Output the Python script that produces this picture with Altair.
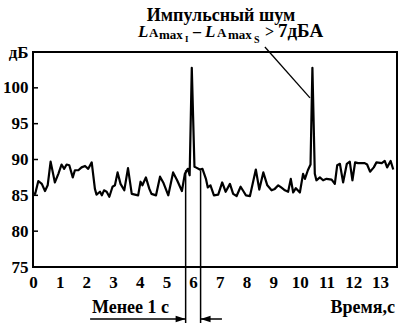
import altair as alt
import pandas as pd

# ---- data ----
times = [0.0, 0.08, 0.2, 0.33, 0.45, 0.55, 0.66, 0.82, 0.95, 1.07, 1.17, 1.26, 1.36, 1.49,
         1.57, 1.70, 1.82, 1.95, 2.07, 2.20, 2.32, 2.38, 2.51, 2.58, 2.66, 2.76, 2.86, 2.98,
         3.07, 3.17, 3.28, 3.42, 3.56, 3.70, 3.82, 3.94, 4.03, 4.10, 4.23, 4.36, 4.44, 4.61,
         4.76, 4.88, 5.07, 5.25, 5.40, 5.58, 5.69, 5.80, 5.87, 5.95, 6.05, 6.10, 6.25, 6.35,
         6.48, 6.55, 6.65, 6.78, 6.94, 7.09, 7.22, 7.38, 7.50, 7.63, 7.78, 7.88, 7.98, 8.13,
         8.35, 8.48, 8.63, 8.78, 8.94, 9.06, 9.19, 9.30, 9.44, 9.56, 9.66, 9.75, 9.85, 10.0,
         10.12, 10.19, 10.30, 10.40, 10.47, 10.56, 10.62, 10.75, 10.87, 11.0, 11.19, 11.31,
         11.40, 11.50, 11.62, 11.76, 11.87, 11.97, 12.07, 12.18, 12.43, 12.52, 12.63, 12.77,
         12.87, 13.07, 13.18, 13.27, 13.40, 13.50]
levels = [85.3, 85.2, 87.0, 86.6, 85.6, 86.4, 89.7, 86.8, 88.0, 89.3, 88.7, 89.3, 89.2, 87.5,
          88.5, 88.5, 88.9, 89.1, 88.7, 89.6, 85.9, 85.1, 85.5, 85.0, 85.7, 85.5, 84.8, 86.2,
          86.4, 88.2, 86.6, 85.7, 88.8, 85.2, 85.1, 85.0, 86.9, 86.4, 87.5, 85.9, 85.2, 85.0,
          87.6, 86.8, 85.0, 88.2, 87.1, 85.6, 88.0, 88.7, 87.8, 102.8, 89.0, 88.9, 88.6, 88.7,
          87.3, 86.1, 86.4, 85.0, 85.1, 86.8, 85.5, 86.6, 85.2, 84.9, 86.2, 85.6, 85.0, 84.9,
          88.6, 85.8, 88.2, 86.4, 85.7, 85.9, 86.4, 86.1, 85.7, 85.5, 87.3, 85.4, 86.0, 85.4,
          88.0, 87.3, 88.5, 89.3, 102.8, 88.0, 87.1, 87.5, 87.1, 87.3, 87.2, 86.6,
          89.2, 89.4, 86.8, 89.4, 89.7, 87.1, 89.6, 89.5, 89.5, 89.3, 88.3, 88.9,
          89.6, 89.5, 89.8, 88.9, 89.8, 88.6]
assert len(times) == len(levels)

x_ticks = list(range(14))
y_ticks = [75, 80, 85, 90, 95, 100, 105]
inner_ticks = [80, 85, 90, 95, 100]
interval_edges = [5.72, 6.28]      # "less than 1 s" interval
interval_top = 88.5
arrow_starts = [2.14, 7.08]
pointer_t = [8.69, 10.38]
pointer_v = [105.7, 98.6]

FONT = "Liberation Serif"
WEIGHT = "bold"
xs = alt.Scale(domain=[0, 13.64], nice=False, zero=False)
ys = alt.Scale(domain=[75, 105], nice=False, zero=False)

# the same axis objects are used in every layer, so the shared axes merge cleanly
xaxis = alt.Axis(values=x_ticks, ticks=False, domain=False, grid=False, labelFont=FONT,
                 labelFontSize=17, labelFontWeight=WEIGHT, labelColor="black",
                 labelPadding=7, labelFlush=False, labelOverlap=False, title=None)
yaxis = alt.Axis(values=y_ticks, ticks=False, domain=False, grid=False, labelFont=FONT,
                 labelFontSize=17, labelFontWeight=WEIGHT, labelColor="black",
                 labelPadding=5, labelFlush=False, labelOverlap=False, title=None,
                 labelExpr="datum.value == 105 ? 'дБ' : datum.label")


def X(field):
    return alt.X(field, scale=xs, axis=xaxis)


def Y(field):
    return alt.Y(field, scale=ys, axis=yaxis)


df = pd.DataFrame({"t": times, "v": levels})

line = alt.Chart(df).mark_line(color="black", strokeWidth=2.2, strokeJoin="round").encode(
    x=X("t:Q"), y=Y("v:Q"))

tick_layer = alt.Chart(pd.DataFrame({"v": inner_ticks})).mark_rule(
    color="black", strokeWidth=1.5).encode(
    y=Y("v:Q"), x=alt.value(0), x2=alt.value(5))

edge_rules = alt.Chart(pd.DataFrame({"t": interval_edges, "v": [interval_top] * 2})).mark_rule(
    color="black", strokeWidth=1.5).encode(
    x=X("t:Q"), y=Y("v:Q"), y2=alt.value(271))

arrow_lines = alt.Chart(pd.DataFrame({"t": arrow_starts, "t2": interval_edges})).mark_rule(
    color="black", strokeWidth=1.5).encode(
    x=X("t:Q"), x2="t2:Q", y=alt.value(267))

head_r = alt.Chart(pd.DataFrame({"t": [interval_edges[0]]})).mark_point(
    shape="M0,0L-1,-0.32L-1,0.32Z", filled=True, color="black", opacity=1, size=400).encode(
    x=X("t:Q"), y=alt.value(267))
head_l = alt.Chart(pd.DataFrame({"t": [interval_edges[1]]})).mark_point(
    shape="M0,0L1,-0.32L1,0.32Z", filled=True, color="black", opacity=1, size=400).encode(
    x=X("t:Q"), y=alt.value(267))

pointer = alt.Chart(pd.DataFrame({"t": [pointer_t[0]], "t2": [pointer_t[1]],
                                  "v": [pointer_v[0]], "v2": [pointer_v[1]]})).mark_rule(
    color="black", strokeWidth=1.3).encode(
    x=X("t:Q"), x2="t2:Q", y=Y("v:Q"), y2="v2:Q")


def label(txt, px, py, size, style="normal", align="left"):
    return alt.Chart(pd.DataFrame({"s": [txt]})).mark_text(
        font=FONT, fontSize=size, fontStyle=style, fontWeight=WEIGHT, align=align,
        baseline="alphabetic", color="black").encode(
        x=alt.value(px), y=alt.value(py), text="s:N")


texts = [
    label("Импульсный шум", 188, -31, 18, align="center"),
    label("L", 105, -15, 17, "italic"),
    label("A", 116, -15, 13),
    label("max", 126, -13, 13),
    label("I", 152, -10, 9),
    label("–", 160, -15, 16),
    label("L", 172, -15, 17, "italic"),
    label("A", 184, -15, 13),
    label("max", 195, -13, 13),
    label("S", 221, -9, 10),
    label(">", 232, -15, 16),
    label("7дБА", 245, -15, 19),
    label("Менее 1 с", 59, 261, 18),
    label("Время,с", 362, 261, 18, align="right"),
]

chart = alt.layer(line, tick_layer, edge_rules, arrow_lines, head_r, head_l, pointer,
                  *texts).properties(
    width=364, height=215,
    padding={"left": 33, "top": 52, "right": 6, "bottom": 61},
    autosize=alt.AutoSizeParams(type="none"),
    background="white",
).configure_view(stroke="black", strokeWidth=2)

chart.save("out.html", embed_options={"renderer": "svg", "actions": False})
